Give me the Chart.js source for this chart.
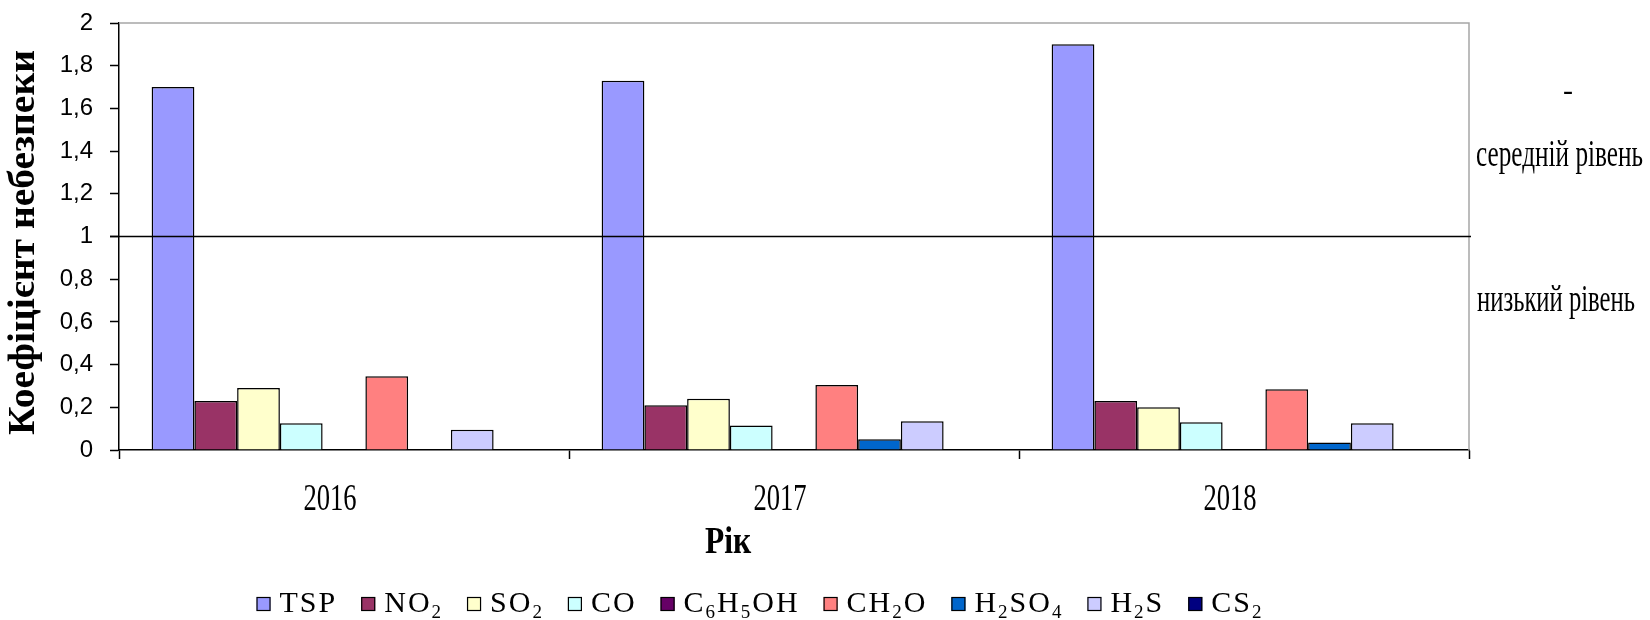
<!DOCTYPE html>
<html>
<head>
<meta charset="utf-8">
<script src="https://cdn.jsdelivr.net/npm/chart.js@4.4.1/dist/chart.umd.min.js"></script>
<style>
  html, body { margin: 0; padding: 0; background: #ffffff; }
  #wrap { width: 1650px; height: 620px; }
</style>
</head>
<body>
<div id="wrap"><canvas id="c" width="1650" height="620"></canvas></div>
<script>
// ---- data ----
const years = ['2016', '2017', '2018'];
const seriesNames = ['TSP', 'NO₂', 'SO₂', 'CO', 'C₆H₅OH', 'CH₂O', 'H₂SO₄', 'H₂S', 'CS₂'];
const tspValues    = [1.70, 1.73, 1.90];
const no2Values    = [0.23, 0.21, 0.23];
const so2Values    = [0.29, 0.24, 0.20];
const coValues     = [0.125, 0.115, 0.13];
const phenolValues = [0, 0, 0];
const ch2oValues   = [0.345, 0.305, 0.285];
const h2so4Values  = [0, 0.05, 0.035];
const h2sValues    = [0.095, 0.135, 0.125];
const cs2Values    = [0, 0, 0];
const seriesColors = ['#9999FF', '#993366', '#FFFFCC', '#CCFFFF', '#660066', '#FF8080', '#0066CC', '#CCCCFF', '#000080'];
const yTickValues  = [0, 0.2, 0.4, 0.6, 0.8, 1, 1.2, 1.4, 1.6, 1.8, 2];
const thresholdLevel = 1;
const yAxisTitle = 'Коефіцієнт небезпеки';
const xAxisTitle = 'Рік';
const upperZoneLabel = 'середній рівень';
const lowerZoneLabel = 'низький рівень';
const dashLabel = '-';

const allSeries = [tspValues, no2Values, so2Values, coValues, phenolValues, ch2oValues, h2so4Values, h2sValues, cs2Values];

const SERIF = '"Liberation Serif", "Times New Roman", serif';
const SANS = '"Liberation Sans", Arial, sans-serif';

function drawScaled(ctx, text, x, y, sx, align) {
  ctx.save();
  ctx.translate(x, y);
  ctx.scale(sx, 1);
  ctx.textAlign = align || 'left';
  ctx.fillText(text, 0, 0);
  ctx.restore();
}
function fitScale(ctx, text, width) {
  return width / ctx.measureText(text).width;
}

// split a label with unicode subscripts into runs
const SUBS = '₀₁₂₃₄₅₆₇₈₉';
function runsOf(label) {
  const runs = [];
  for (const ch of label) {
    const i = SUBS.indexOf(ch);
    const sub = i >= 0;
    const c = sub ? String(i) : ch;
    if (runs.length && runs[runs.length - 1].sub === sub) runs[runs.length - 1].t += c;
    else runs.push({ t: c, sub: sub });
  }
  return runs;
}

const decorPlugin = {
  id: 'decor',
  beforeDatasetsDraw(chart) {
    const { ctx, chartArea: a } = chart;
    ctx.save();
    ctx.strokeStyle = '#a6a6a6';
    ctx.lineWidth = 1.5;
    ctx.beginPath();
    ctx.moveTo(a.left, a.top);
    ctx.lineTo(a.right, a.top);
    ctx.lineTo(a.right, a.bottom);
    ctx.stroke();
    ctx.restore();
  },
  afterDatasetsDraw(chart) {
    const { ctx, chartArea: a, scales } = chart;
    const y1 = scales.y.getPixelForValue(thresholdLevel);
    ctx.save();
    ctx.strokeStyle = '#000';
    ctx.lineWidth = 1.6;
    ctx.beginPath();
    ctx.moveTo(a.left - 9, y1);
    ctx.lineTo(a.right + 2, y1);
    ctx.stroke();
    ctx.restore();
  },
  afterDraw(chart) {
    const { ctx, chartArea: a, scales } = chart;
    ctx.save();
    ctx.fillStyle = '#000';
    ctx.textBaseline = 'alphabetic';

    // category labels (condensed serif)
    ctx.font = '38px ' + SERIF;
    years.forEach((yr, i) => {
      const x = scales.x.getPixelForValue(i) - 14;
      drawScaled(ctx, yr, x, 510, 0.7, 'center');
    });

    // x title
    ctx.font = 'bold 38px ' + SERIF;
    drawScaled(ctx, xAxisTitle, (a.left + a.right) / 2 - 66, 553, 0.83, 'center');

    // y title (rotated)
    ctx.font = 'bold 37px ' + SERIF;
    const ys = fitScale(ctx, yAxisTitle, 385);
    ctx.save();
    ctx.translate(34, (a.top + a.bottom) / 2 + 6);
    ctx.rotate(-Math.PI / 2);
    drawScaled(ctx, yAxisTitle, 0, 0, ys, 'center');
    ctx.restore();

    // zone labels on the right
    ctx.font = '38px ' + SERIF;
    drawScaled(ctx, upperZoneLabel, a.right + 7, 166, fitScale(ctx, upperZoneLabel, 167), 'left');
    drawScaled(ctx, lowerZoneLabel, a.right + 8, 311, fitScale(ctx, lowerZoneLabel, 158), 'left');
    ctx.font = '30px ' + SERIF;
    drawScaled(ctx, dashLabel, a.right + 99, 100, 1, 'center');

    // legend with subscripts
    const sx = 1.0, boxW = 14, boxGap = 9, itemGap = 24;
    const mainFont = '30px ' + SERIF, subFont = '19px ' + SERIF;
    try { ctx.letterSpacing = '2px'; } catch (e) {}
    const items = chart.data.datasets.map(ds => {
      const runs = runsOf(ds.label);
      let w = 0;
      runs.forEach(r => { ctx.font = r.sub ? subFont : mainFont; r.w = ctx.measureText(r.t).width * sx; w += r.w; });
      return { runs, w, color: ds.backgroundColor };
    });
    let total = 0;
    items.forEach((it, i) => { total += boxW + boxGap + it.w + (i ? itemGap : 0); });
    let x = 760 - total / 2;
    const baseY = 612;
    items.forEach((it, i) => {
      if (i) x += itemGap;
      ctx.fillStyle = it.color;
      ctx.fillRect(x, baseY - 15, boxW, boxW);
      ctx.strokeStyle = '#000';
      ctx.lineWidth = 1.2;
      ctx.strokeRect(x + 0.5, baseY - 14.5, boxW - 1, boxW - 1);
      x += boxW + boxGap;
      ctx.fillStyle = '#000';
      it.runs.forEach(r => {
        ctx.font = r.sub ? subFont : mainFont;
        drawScaled(ctx, r.t, x, r.sub ? baseY + 6 : baseY, sx, 'left');
        x += r.w;
      });
    });
    try { ctx.letterSpacing = '0px'; } catch (e) {}
    ctx.restore();
  }
};

const chart = new Chart(document.getElementById('c'), {
  type: 'bar',
  data: {
    labels: years,
    datasets: seriesNames.map((name, i) => ({
      label: name,
      data: allSeries[i],
      backgroundColor: seriesColors[i],
      borderColor: '#000',
      borderWidth: 1.5,
      categoryPercentage: 0.855,
      barPercentage: 1.0
    }))
  },
  options: {
    responsive: false,
    animation: false,
    devicePixelRatio: 1,
    layout: { padding: { left: 0, right: 181, top: 23, bottom: 0 } },
    plugins: { legend: { display: false }, tooltip: { enabled: true } },
    scales: {
      x: {
        offset: true,
        grid: { display: true, drawOnChartArea: false, offset: true, tickLength: 9, tickColor: '#000', tickWidth: 1.5 },
        border: { display: true, color: '#000', width: 1.5 },
        ticks: { color: 'rgba(0,0,0,0)', font: { size: 20, family: SERIF } },
        afterFit(scale) { scale.height = 170; }
      },
      y: {
        min: 0,
        max: 2,
        afterBuildTicks(scale) { scale.ticks = yTickValues.map(v => ({ value: v })); },
        ticks: {
          color: '#000',
          padding: 17,
          font: { size: 24, family: SANS, lineHeight: 0.25 },
          callback: v => String(Math.round(v * 10) / 10).replace('.', ',')
        },
        grid: { display: true, drawOnChartArea: false, tickLength: 9, tickColor: '#000', tickWidth: 1.5 },
        border: { display: true, color: '#000', width: 1.5 },
        afterFit(scale) { scale.width = 119; }
      }
    }
  },
  plugins: [decorPlugin]
});
</script>
</body>
</html>
